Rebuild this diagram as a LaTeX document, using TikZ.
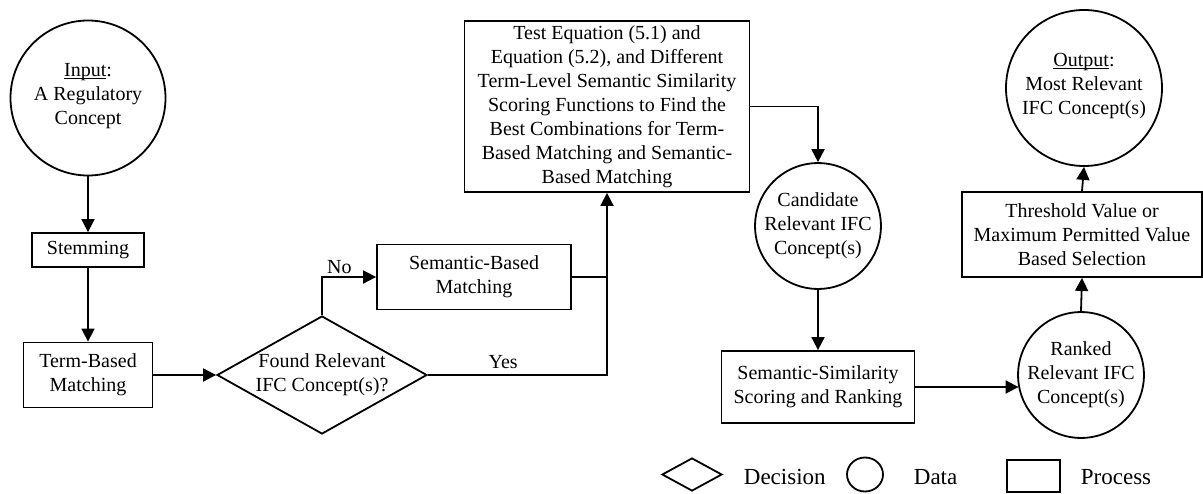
\documentclass[tikz,border=0pt]{standalone}
\usepackage{fontspec}
\setmainfont{Liberation Serif}
\usetikzlibrary{shapes.geometric,arrows.meta,calc}
\begin{document}
\begin{tikzpicture}[x=1pt,y=-1pt,
  every node/.style={font=\fontsize{20}{24}\selectfont, align=center, line width=1.8pt},
  proc/.style={draw, rectangle, inner sep=0pt},
  datum/.style={draw, circle, inner sep=0pt},
  decision/.style={draw, diamond, inner sep=-4pt, aspect=1.78},
  arr/.style={line width=1.8pt, -{Triangle[length=13pt,width=13pt]}},
  conn/.style={line width=1.8pt},
  legtext/.style={font=\fontsize{23}{26}\selectfont, anchor=west, inner sep=0pt}
]
\useasboundingbox (0,0) rectangle (1203,493);

\node[datum, minimum size=155pt] (in) at (88,98) {\underline{\smash{Input}}:\\A Regulatory\\Concept};
\node[proc, minimum width=112pt, minimum height=34pt] (stem) at (88,250) {Stemming};
\node[proc, minimum width=129pt, minimum height=65pt] (term) at (88,375) {Term-Based\\Matching};
\node[decision, minimum width=210pt, minimum height=118pt] (dec) at (322,375) {Found Relevant\\IFC Concept(s)?};
\node[proc, minimum width=194pt, minimum height=65pt] (sb) at (474,277) {Semantic-Based\\Matching};
\node[proc, minimum width=285pt, minimum height=171pt] (test) at (607,106.5) {Test Equation (5.1) and\\Equation (5.2), and Different\\Term-Level Semantic Similarity\\Scoring Functions to Find the\\Best Combinations for Term-\\Based Matching and Semantic-\\Based Matching};
\node[datum, minimum size=122pt] (cand) at (818,226) {Candidate\\Relevant IFC\\Concept(s)};
\node[proc, minimum width=193pt, minimum height=72pt] (ss) at (818,387) {Semantic-Similarity\\Scoring and Ranking};
\node[datum, minimum size=122pt] (rk) at (1081,375) {Ranked\\Relevant IFC\\Concept(s)};
\node[proc, minimum width=240pt, minimum height=85pt] (thr) at (1082,234.5) {Threshold Value or\\Maximum Permitted Value\\Based Selection};
\node[datum, minimum size=156pt] (out) at (1084,88) {\underline{\smash{Output}}:\\Most Relevant\\IFC Concept(s)};

\draw[arr] (in.south) -- (stem.north);
\draw[arr] (stem.south) -- (term.north);
\draw[arr] (term.east) -- (dec.west);
\draw[arr] (dec.north) |- (sb.west) node[pos=0.66, above=1pt, inner sep=1pt] {No};
\draw[arr] (dec.east) -| (test.south) node[pos=0.21, above=4pt, inner sep=1pt] {Yes};
\draw[conn] (sb.east) -- (sb.east -| test.south);
\draw[arr] (test.east) -| (cand.north);
\draw[arr] (cand.south) -- (ss.north);
\draw[arr] (ss.east) -- (ss.east -| rk.192);
\draw[arr] (rk.north) -- (thr.south);
\draw[arr] (thr.north) -- (out.south);

% legend
\node[draw, diamond, aspect=1.8, inner sep=0pt, minimum width=60pt, minimum height=33pt] (ld) at (692,474.5) {};
\node[legtext] (ldt) at (743,477) {Decision};
\node[datum, minimum width=36pt, minimum height=34pt, ellipse] (lc) at (865,474.5) {};
\node[legtext] (lct) at (913,477) {Data};
\node[proc, minimum width=53pt, minimum height=32pt] (lp) at (1033.5,476) {};
\node[legtext] (lpt) at (1080,477) {Process};
\end{tikzpicture}
\end{document}
